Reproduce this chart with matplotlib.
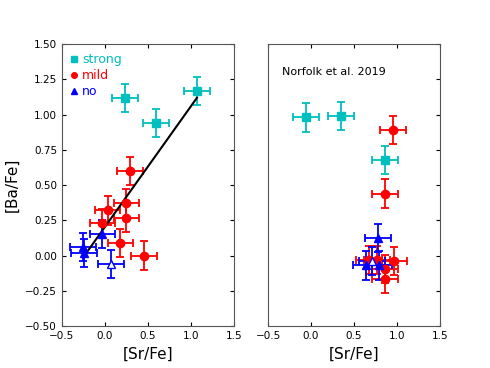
import matplotlib
matplotlib.use('Agg')
import matplotlib.pyplot as plt
from matplotlib.lines import Line2D

# left panel: this work
strong_sr = [0.23, 0.59, 1.07]
strong_ba = [1.12, 0.94, 1.17]
mild_sr = [0.29, 0.25, 0.03, 0.25, -0.03, 0.18, 0.45]
mild_ba = [0.60, 0.37, 0.32, 0.27, 0.23, 0.09, 0.00]
no_sr = [-0.03, -0.26, -0.24]
no_ba = [0.155, 0.06, 0.02]
no_open_sr = [0.07]
no_open_ba = [-0.06]
fit_sr = [-0.25, 1.07]
fit_ba = [-0.01, 1.12]

# right panel: Norfolk et al. 2019
n_strong_sr = [-0.06, 0.35, 0.86]
n_strong_ba = [0.98, 0.99, 0.68]
n_mild_sr = [0.95, 0.86, 0.67, 0.77, 0.97, 0.86, 0.86]
n_mild_ba = [0.89, 0.44, -0.03, -0.03, -0.04, -0.095, -0.165]
n_no_sr = [0.78, 0.64, 0.79]
n_no_ba = [0.125, -0.07, -0.07]
n_no_open_sr = [0.71]
n_no_open_ba = [-0.04]

xerr = 0.15
yerr = 0.10

fig = plt.figure(figsize=(4.9, 3.68), dpi=100)
ax1 = fig.add_axes([0.1265, 0.114, 0.351, 0.766])
ax2 = fig.add_axes([0.547, 0.114, 0.351, 0.766])

eb = dict(xerr=xerr, yerr=yerr, linestyle='none', capsize=3, elinewidth=1.3,
          capthick=1.3, markersize=6)


def draw(ax, ssr, sba, msr, mba, nsr, nba, osr, oba):
    ax.errorbar(ssr, sba, fmt='s', color='c', **eb)
    ax.errorbar(msr, mba, fmt='o', color='r', **eb)
    ax.errorbar(nsr, nba, fmt='^', color='b', **eb)
    ax.errorbar(osr, oba, fmt='^', color='b', mfc='white', **eb)


draw(ax1, strong_sr, strong_ba, mild_sr, mild_ba, no_sr, no_ba, no_open_sr, no_open_ba)
ax1.plot(fit_sr, fit_ba, 'k-', lw=1.5)
draw(ax2, n_strong_sr, n_strong_ba, n_mild_sr, n_mild_ba, n_no_sr, n_no_ba,
     n_no_open_sr, n_no_open_ba)
ax2.text(-0.34, 1.30, 'Norfolk et al. 2019', fontsize=8, va='center')

handles = [Line2D([], [], ls='none', marker='s', color='c', markersize=4),
           Line2D([], [], ls='none', marker='o', color='r', markersize=4),
           Line2D([], [], ls='none', marker='^', color='b', markersize=4)]
leg = ax1.legend(handles, ['strong', 'mild', 'no'], loc='upper left', frameon=False,
                 fontsize=9, handlelength=0.6, handletextpad=0.3, borderaxespad=0.5,
                 labelspacing=0.25, borderpad=0.2)
for txt, c in zip(leg.get_texts(), ['c', 'r', 'b']):
    txt.set_color(c)

for ax in (ax1, ax2):
    ax.set_xlim(-0.5, 1.5)
    ax.set_ylim(-0.5, 1.5)
    ax.set_xticks([-0.5, 0.0, 0.5, 1.0, 1.5])
    ax.set_yticks([-0.5, -0.25, 0.0, 0.25, 0.5, 0.75, 1.0, 1.25, 1.5])
    ax.tick_params(direction='in', top=True, right=True, length=3, labelsize=7.5)
    ax.set_xlabel('[Sr/Fe]', fontsize=11)
    for s in ax.spines.values():
        s.set_color('#555555')

ax1.set_ylabel('[Ba/Fe]', fontsize=11)
ax2.tick_params(left=False, labelleft=False)

fig.savefig('out.png', dpi=100)
